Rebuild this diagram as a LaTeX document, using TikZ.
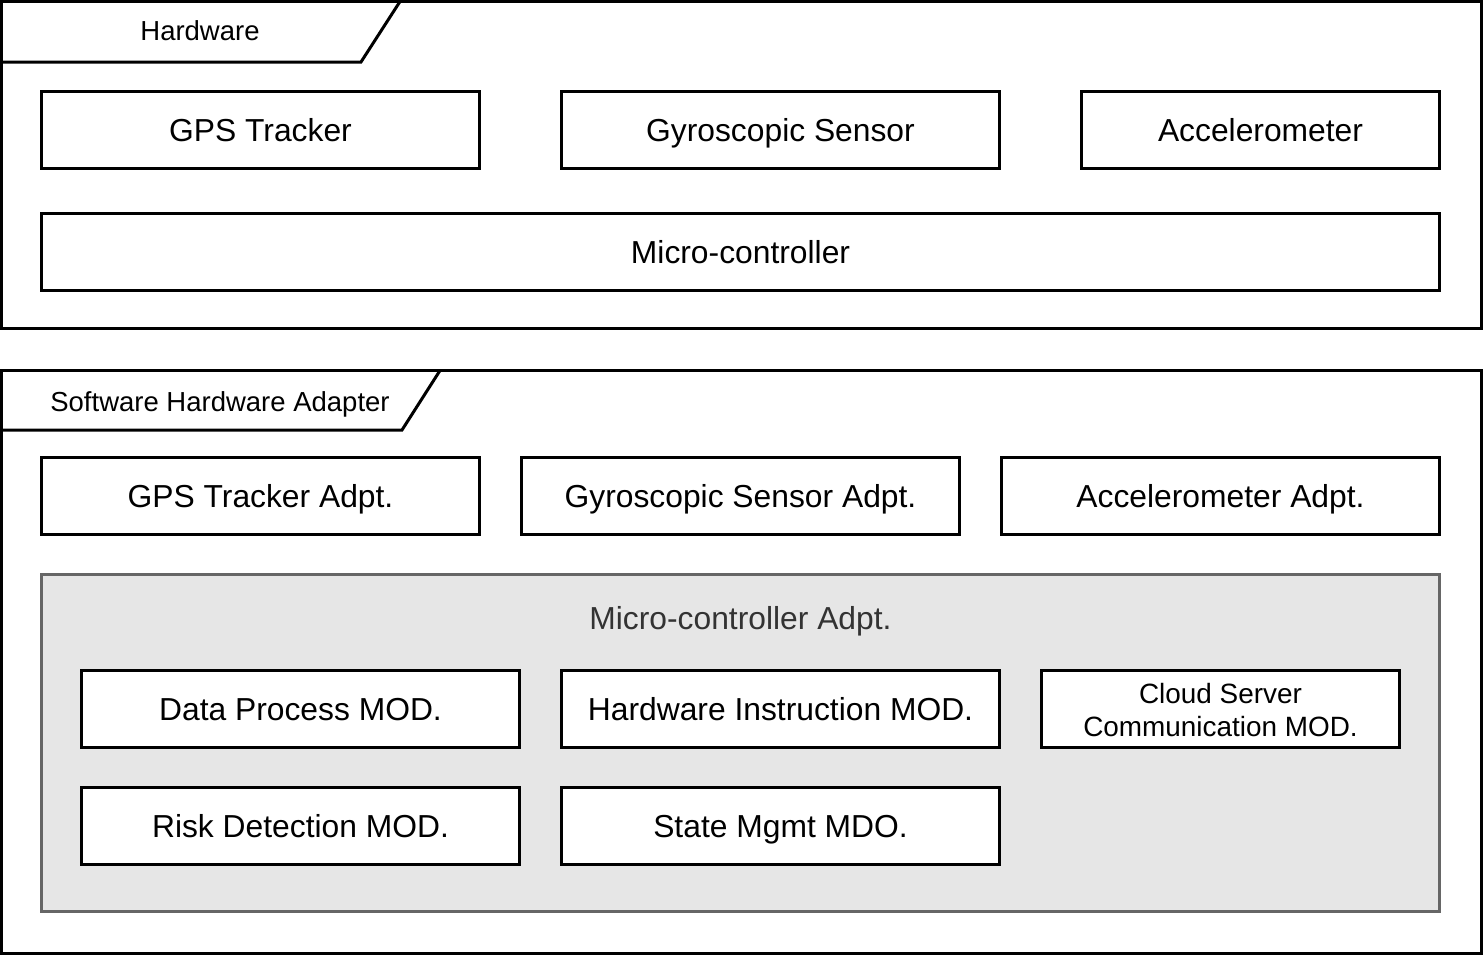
\documentclass[tikz,border=0pt]{standalone}
\usepackage{fontspec}
\setmainfont{Liberation Sans}
\definecolor{greyfill}{HTML}{E6E6E6}
\definecolor{greyline}{HTML}{666666}
\definecolor{titletext}{HTML}{333333}
\tikzset{
  frame/.style={draw=black, line width=3pt, fill=white, inner sep=0pt},
  box/.style={draw=black, line width=3pt, fill=white, inner sep=0pt, minimum height=77pt,
              text height=22.8pt, text depth=0pt, font=\fontsize{31.8}{37}\selectfont},
  tabtext/.style={inner sep=0pt, text height=19.7pt, text depth=0pt, font=\fontsize{27.5}{32}\selectfont},
  group/.style={draw=greyline, line width=3pt, fill=greyfill, inner sep=0pt},
}
\begin{document}
\begin{tikzpicture}[x=1pt,y=-1pt]
\useasboundingbox (0,0) rectangle (1484,956);
% Hardware frame
\node[frame, minimum width=1480pt, minimum height=326.5pt] (hwframe) at (741.5,164.75) {};
\draw[line width=3pt, line join=miter] (1.5,62) -- (361,62) -- (400,1.5);
\node[tabtext] (hwtitle) at (200,31) {Hardware};
\node[box, minimum width=438pt] (gps) at (260.5,130) {GPS Tracker};
\node[box, minimum width=438pt] (gyro) at (780.5,130) {Gyroscopic Sensor};
\node[box, minimum width=358pt] (acc) at (1260.5,130) {Accelerometer};
\node[box, minimum width=1398pt] (mcu) at (740.5,252) {Micro-controller};
% Software Hardware Adapter frame
\node[frame, minimum width=1480pt, minimum height=583pt] (swframe) at (741.5,662) {};
\draw[line width=3pt, line join=miter] (1.5,430) -- (402,430) -- (440,370.5);
\node[tabtext] (swtitle) at (220,402) {Software Hardware Adapter};
\node[box, minimum width=438pt] (gpsa) at (260.5,496) {GPS Tracker Adpt.};
\node[box, minimum width=438pt] (gyroa) at (740.5,496) {Gyroscopic Sensor Adpt.};
\node[box, minimum width=438pt] (acca) at (1220.5,496) {Accelerometer Adpt.};
% Micro-controller adapter group
\node[group, minimum width=1398pt, minimum height=337pt] (mcua) at (740.5,743) {};
\node[inner sep=0pt, text=titletext, text height=22.8pt, text depth=0pt, font=\fontsize{31.8}{37}\selectfont] (mcuatitle) at (740.5,618) {Micro-controller Adpt.};
\node[box, minimum width=438pt] (data) at (300.5,709) {Data Process MOD.};
\node[box, minimum width=438pt] (hwins) at (780.5,709) {Hardware Instruction MOD.};
\node[draw=black, line width=3pt, fill=white, inner sep=0pt, minimum height=77pt, minimum width=358pt,
      align=center, font=\fontsize{27.9}{33}\selectfont] (cloud) at (1220.5,709) {\strut Cloud Server\\Communication MOD.};
\node[box, minimum width=438pt] (risk) at (300.5,826) {Risk Detection MOD.};
\node[box, minimum width=438pt] (state) at (780.5,826) {State Mgmt MDO.};
\end{tikzpicture}
\end{document}
